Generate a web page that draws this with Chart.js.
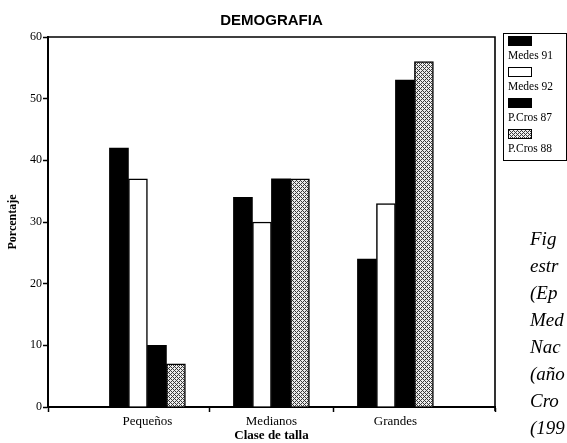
<!DOCTYPE html>
<html>
<head>
<meta charset="utf-8">
<script src="https://cdn.jsdelivr.net/npm/chart.js@4/dist/chart.umd.min.js"></script>
<style>
  body { margin: 0; background: #fff; overflow: hidden; }
  #wrap { position: relative; width: 567px; height: 443px; overflow: hidden; }
  #legend {
    position: absolute; left: 503px; top: 33px; width: 62px; height: 126px;
    border: 1.5px solid #000; font-family: 'Liberation Serif', serif; font-size: 11.5px; color: #000;
  }
  #legend .item { margin-left: 4px; }
  #legend .sw { width: 24px; height: 10px; border: 1px solid #000; margin-top: 2px; box-sizing: border-box; }
  #legend .lbl { line-height: 19px; white-space: nowrap; }
  #caption {
    position: absolute; left: 530px; top: 225px; font-family: 'Liberation Serif', serif;
    font-style: italic; font-size: 19px; line-height: 27px; color: #000; white-space: nowrap;
  }
</style>
</head>
<body>
<div id="wrap">
  <canvas id="demoChart"></canvas>
  <div id="legend"></div>
  <div id="caption"></div>
</div>
<script>
// values (porcentaje per clase de talla)
const sizeClasses = ['Pequeños', 'Medianos', 'Grandes'];
const seriesNames = ['Medes 91', 'Medes 92', 'P.Cros 87', 'P.Cros 88'];
const medes91 = [42, 34, 24];
const medes92 = [37, 30, 33];
const pcros87 = [10, 37, 53];
const pcros88 = [7, 37, 56];
const captionLines = ['Fig', 'estr', '(Ep', 'Med', 'Nac', '(año', 'Cro', '(199'];

// grey cross-hatch used for P.Cros 88
function makeHatch() {
    let c = document.createElement('canvas');
    c.width = 4; c.height = 4;
    let g = c.getContext('2d');
    g.fillStyle = '#ececec';
    g.fillRect(0, 0, 4, 4);
    g.fillStyle = '#3a3a3a';
    [[0,0],[1,1],[2,2],[3,3],[1,3],[3,1]].forEach(function(p) { g.fillRect(p[0], p[1], 1, 1); });
    return c;
}
const hatchCanvas = makeHatch();
const hatch = document.getElementById('demoChart').getContext('2d').createPattern(hatchCanvas, 'repeat');

function points(arr) {
    return arr.map(function(v, i) { return { x: i + 1, y: v }; });
}

const fills = ['#000', '#fff', '#000', hatch];
const borders = [0, 1.5, 0, 1.5];
const allSeries = [medes91, medes92, pcros87, pcros88];

const datasets = allSeries.map(function(s, i) {
    return {
        label: seriesNames[i],
        data: points(s),
        backgroundColor: fills[i],
        borderColor: '#000',
        borderWidth: borders[i],
        barThickness: 19
    };
});

const xMin = 0.198, xMax = 3.803;
const serif = "'Liberation Serif', serif";

// top and right frame of the plot
const frame = {
    id: 'frame',
    afterDatasetsDraw: function(chart) {
        let a = chart.chartArea, ctx = chart.ctx;
        ctx.save();
        ctx.strokeStyle = '#000';
        ctx.lineWidth = 1.6;
        ctx.beginPath();
        ctx.moveTo(a.left, a.top);
        ctx.lineTo(a.right, a.top);
        ctx.lineTo(a.right, a.bottom + 4);
        ctx.stroke();
        ctx.restore();
    }
};

new Chart(document.getElementById('demoChart'), {
    type: 'bar',
    data: { datasets: datasets },
    options: {
        responsive: true,
        maintainAspectRatio: false,
        animation: false,
        layout: { padding: { top: 0, right: 72, bottom: 0, left: 0 } },
        plugins: {
            legend: { display: false },
            tooltip: { enabled: false },
            title: {
                display: true,
                text: 'DEMOGRAFIA',
                fullSize: false,
                color: '#000',
                font: { family: "'Liberation Sans', Arial, sans-serif", size: 15, weight: 'bold' },
                padding: { top: 12, bottom: 7 }
            }
        },
        scales: {
            x: {
                type: 'linear',
                min: xMin,
                max: xMax,
                offset: false,
                afterBuildTicks: function(scale) {
                    scale.ticks = [xMin, 1, 1.5, 2, 2.5, 3, xMax].map(function(v) { return { value: v }; });
                },
                afterFit: function(scale) { scale.height = 36; },
                grid: {
                    offset: false,
                    drawOnChartArea: false,
                    tickLength: 5,
                    tickWidth: 1.5,
                    color: function(ctx) {
                        return Number.isInteger(ctx.tick && ctx.tick.value) ? 'rgba(0,0,0,0)' : '#000';
                    }
                },
                border: { color: '#000', width: 2 },
                ticks: {
                    autoSkip: false,
                    maxRotation: 0,
                    padding: 2,
                    color: '#000',
                    font: { family: serif, size: 13 },
                    callback: function(v) {
                        return Number.isInteger(v) ? sizeClasses[v - 1] : '';
                    }
                },
                title: {
                    display: true,
                    text: 'Clase de talla',
                    color: '#000',
                    font: { family: serif, size: 13, weight: 'bold' },
                    padding: 0
                }
            },
            y: {
                min: 0,
                max: 60,
                afterFit: function(scale) { scale.width = 48; },
                grid: { drawOnChartArea: false, tickLength: 5, tickWidth: 1.5, color: '#000' },
                border: { color: '#000', width: 2 },
                ticks: {
                    stepSize: 10,
                    padding: 1,
                    color: '#000',
                    font: { family: serif, size: 12 }
                },
                title: {
                    display: true,
                    text: 'Porcentaje',
                    color: '#000',
                    font: { family: serif, size: 12, weight: 'bold' },
                    padding: { top: 6, bottom: 6 }
                }
            }
        }
    },
    plugins: [frame]
});

// legend: swatch above each name
const legend = document.getElementById('legend');
const hatchUrl = hatchCanvas.toDataURL();
seriesNames.forEach(function(name, i) {
    let item = document.createElement('div');
    item.className = 'item';
    let sw = document.createElement('div');
    sw.className = 'sw';
    if (i === 3) {
        sw.style.backgroundImage = 'url(' + hatchUrl + ')';
    } else {
        sw.style.background = fills[i];
    }
    let lbl = document.createElement('div');
    lbl.className = 'lbl';
    lbl.textContent = name;
    item.appendChild(sw);
    item.appendChild(lbl);
    legend.appendChild(item);
});

const caption = document.getElementById('caption');
captionLines.forEach(function(line) {
    let d = document.createElement('div');
    d.textContent = line;
    caption.appendChild(d);
});
</script>
</body>
</html>
